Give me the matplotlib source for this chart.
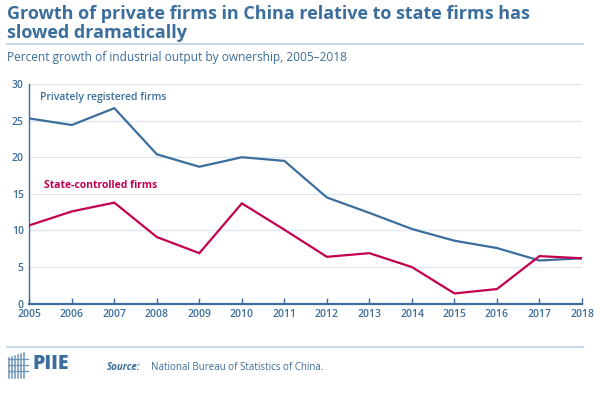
import matplotlib.pyplot as plt
import matplotlib.lines as mlines
import numpy as np

##### data #####
years = list(range(2005, 2019))
private = [25.3, 24.4, 26.7, 20.4, 18.7, 20.0, 19.5, 14.5, 12.4, 10.2, 8.6, 7.6, 5.9, 6.2]
state = [10.7, 12.6, 13.8, 9.1, 6.9, 13.7, 10.1, 6.4, 6.9, 5.0, 1.4, 2.0, 6.5, 6.2]
yticks = [0, 5, 10, 15, 20, 25, 30]

BLUE = "#3b6e9c"
RED = "#c2004f"
GRID = "#dde8f2"
plt.rcParams["font.family"] = ["Open Sans", "DejaVu Sans"]

W, H = 602, 394
fig = plt.figure(figsize=(W / 100, H / 100), dpi=100)

def fx(px):
    return px / W

def fy(py):
    return 1 - py / H

##### axes #####
left, right, top, bottom = 29.3, 582, 84, 303.7
ax = fig.add_axes([fx(left), fy(bottom), fx(right - left), fy(top) - fy(bottom)])
ax.plot(years, private, color=BLUE, lw=1.6, solid_joinstyle="miter", zorder=3)
ax.plot(years, state, color=RED, lw=1.6, solid_joinstyle="miter", zorder=3)

ax.set_xlim(2005, 2018)
ax.set_ylim(0, 30)
ax.set_yticks(yticks)
ax.set_xticks(years)
ax.set_xticklabels([str(y) for y in years])
for y in yticks[1:]:
    ax.axhline(y, color=GRID, lw=1, zorder=1)

for s in ["top", "right"]:
    ax.spines[s].set_visible(False)
ax.spines["left"].set_color(BLUE)
ax.spines["left"].set_linewidth(1.0)
ax.spines["bottom"].set_color(BLUE)
ax.spines["bottom"].set_linewidth(1.6)
ax.tick_params(axis="x", direction="in", length=4, width=1, color=BLUE,
               labelcolor=BLUE, labelsize=7.5, pad=4)
ax.tick_params(axis="y", length=0, labelcolor=BLUE, labelsize=7.5, pad=4)
for lab in ax.get_xticklabels() + ax.get_yticklabels():
    lab.set_fontweight("semibold")

ax.text(2005.25, 28.2, "Privately registered firms", color=BLUE, fontsize=7.5,
        fontweight="semibold", va="center")
ax.text(2005.35, 16.1, "State-controlled firms", color=RED, fontsize=7.5,
        fontweight="bold", va="center")

##### header #####
fig.text(fx(7), fy(14), "Growth of private firms in China relative to state firms has",
         color=BLUE, fontsize=13, fontweight="bold", va="center")
fig.text(fx(7), fy(33), "slowed dramatically",
         color=BLUE, fontsize=13, fontweight="bold", va="center")
fig.add_artist(mlines.Line2D([fx(7), fx(583)], [fy(43.5), fy(43.5)], color="#c9d9e8", lw=1.5))
fig.text(fx(7), fy(58), "Percent growth of industrial output by ownership, 2005\u20132018",
         color=BLUE, fontsize=8.6, va="center")

##### footer #####
fig.add_artist(mlines.Line2D([fx(7), fx(583)], [fy(347), fy(347)], color="#c9d9e8", lw=1.5))
# small building icon
for xx in [9, 12, 15, 18, 21, 24]:
    fig.add_artist(mlines.Line2D([fx(xx), fx(xx)], [fy(353 + (24 - xx) * 0.3), fy(378)],
                                 color="#6d94ba", lw=1.1))
for yy in [359, 365, 371]:
    fig.add_artist(mlines.Line2D([fx(8), fx(28)], [fy(yy), fy(yy)], color="#6d94ba", lw=0.9))
fig.text(fx(33), fy(364), "PIIE", color=BLUE, fontsize=14, fontweight="extra bold", va="center")
fig.text(fx(107), fy(367), "Source:", color=BLUE, fontsize=7, fontweight="bold",
         style="italic", va="center")
fig.text(fx(151), fy(367), "National Bureau of Statistics of China.", color=BLUE,
         fontsize=7, va="center")

plt.savefig("out.png", dpi=100)
